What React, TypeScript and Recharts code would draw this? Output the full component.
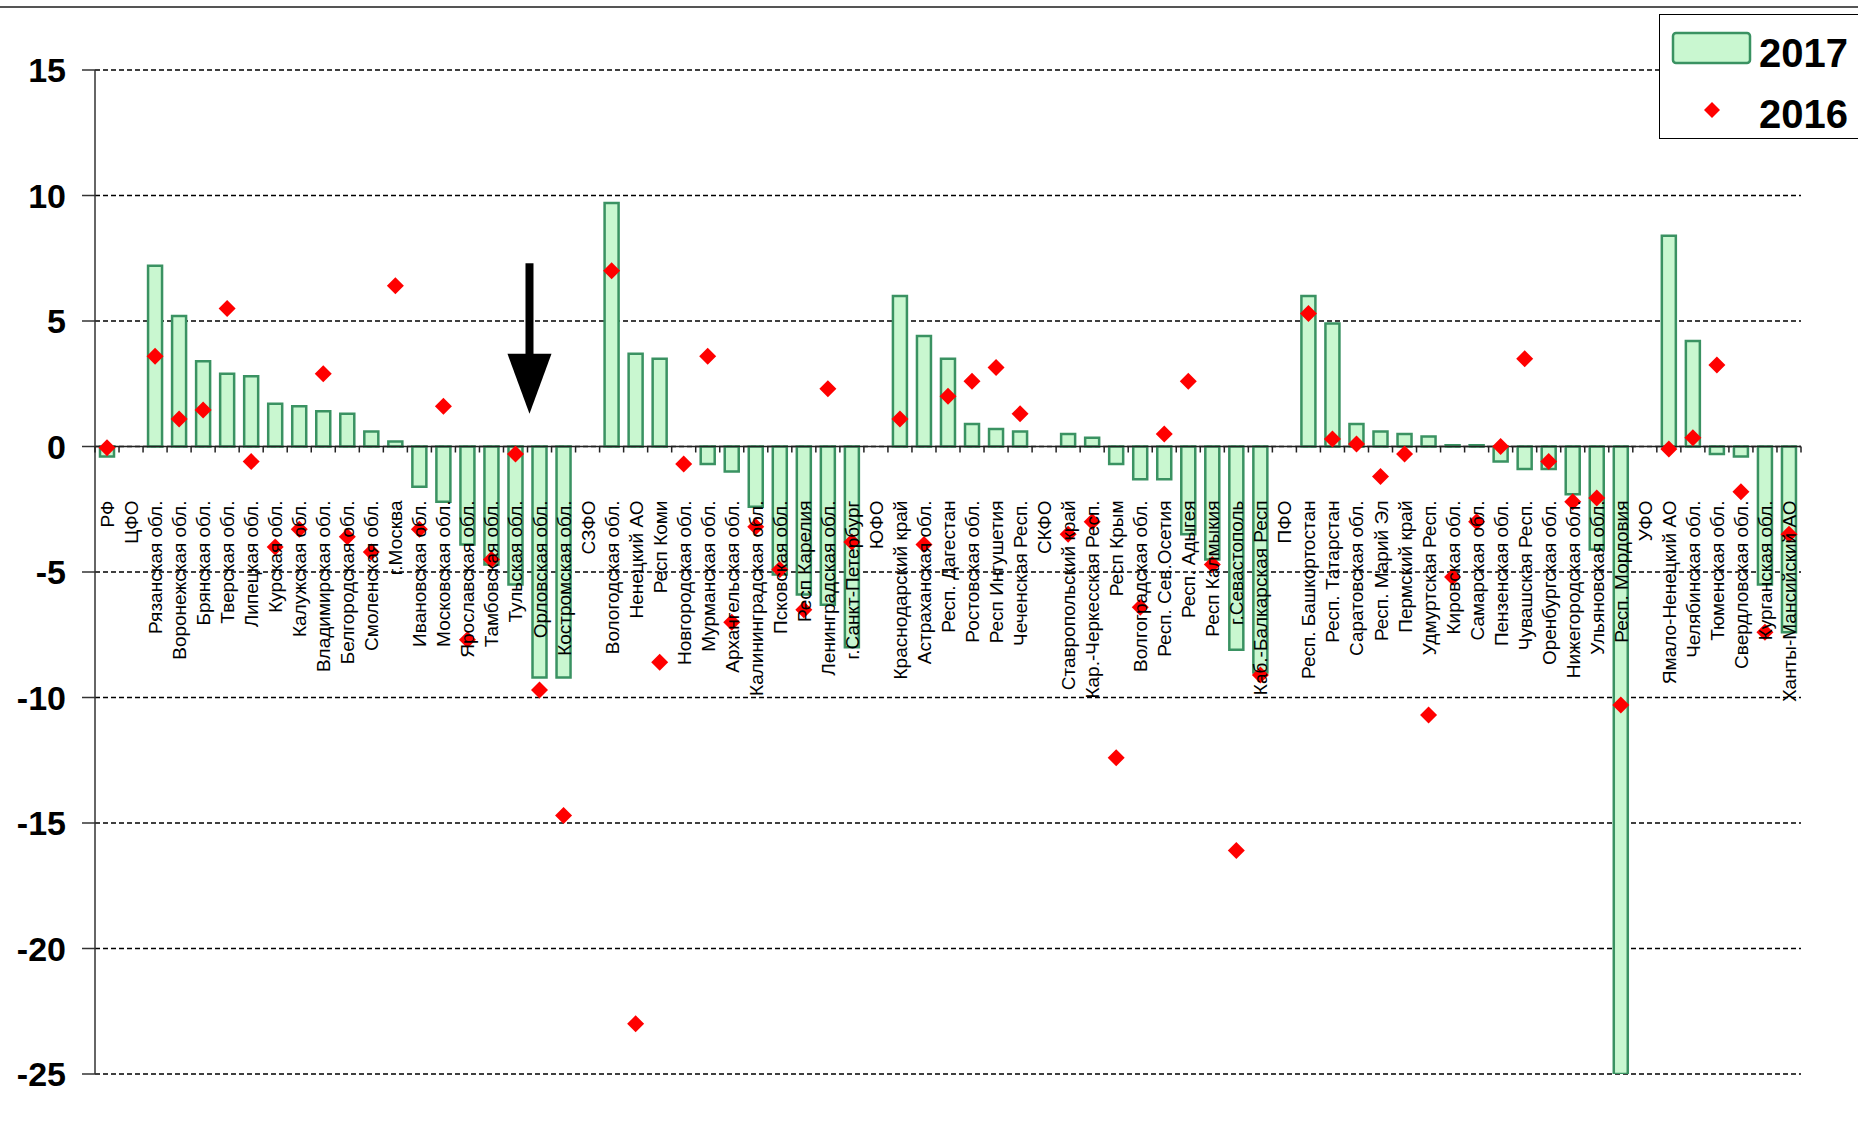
import React from "react";
import {
  ComposedChart,
  Bar,
  Scatter,
  XAxis,
  YAxis,
  CartesianGrid,
  ReferenceLine,
} from "recharts";

const categories = [
  "РФ", "ЦФО", "Рязанская обл.", "Воронежская обл.", "Брянская обл.", "Тверская обл.",
  "Липецкая обл.", "Курская обл.", "Калужская обл.", "Владимирская обл.", "Белгородская обл.",
  "Смоленская обл.", "г.Москва", "Ивановская обл.", "Московская обл.", "Ярославская обл.",
  "Тамбовская обл.", "Тульская обл.", "Орловская обл.", "Костромская обл.",
  "СЗФО", "Вологодская обл.", "Ненецкий АО", "Респ Коми", "Новгородская обл.",
  "Мурманская обл.", "Архангельская обл.", "Калининградская обл.", "Псковская обл.",
  "Респ Карелия", "Ленинградская обл.", "г.Санкт-Петербург",
  "ЮФО", "Краснодарский край", "Астраханская обл.", "Респ. Дагестан", "Ростовская обл.",
  "Респ Ингушетия", "Чеченская Респ.",
  "СКФО", "Ставропольский край", "Кар.-Черкесская Респ.", "Респ Крым", "Волгоградская обл.",
  "Респ. Сев.Осетия", "Респ. Адыгея", "Респ Калмыкия", "г.Севастополь", "Каб.-Балкарская Респ",
  "ПФО", "Респ. Башкортостан", "Респ. Татарстан", "Саратовская обл.", "Респ. Марий Эл",
  "Пермский край", "Удмуртская Респ.", "Кировская обл.", "Самарская обл.", "Пензенская обл.",
  "Чувашская Респ.", "Оренбургская обл.", "Нижегородская обл.", "Ульяновская обл.",
  "Респ. Мордовия",
  "УФО", "Ямало-Ненецкий АО", "Челябинская обл.", "Тюменская обл.", "Свердловская обл.",
  "Курганская обл.", "Ханты-Мансийский АО",
];

const values2017: (number | null)[] = [
  -0.4, null, 7.2, 5.2, 3.4, 2.9, 2.8, 1.7, 1.6, 1.4, 1.3, 0.6, 0.2, -1.6, -2.2, -3.9, -4.7, -5.5, -9.2, -9.2,
  null, 9.7, 3.7, 3.5, null, -0.7, -1.0, -2.4, -5.1, -5.9, -6.3, -8.0,
  null, 6.0, 4.4, 3.5, 0.9, 0.7, 0.6,
  null, 0.5, 0.35, -0.7, -1.3, -1.3, -3.5, -4.5, -8.1, -9.0,
  null, 6.0, 4.9, 0.9, 0.6, 0.5, 0.4, 0.05, 0.05, -0.6, -0.9, -0.9, -1.9, -4.1, -25,
  null, 8.4, 4.2, -0.3, -0.4, -5.5, -7.4,
];

const values2016: (number | null)[] = [
  -0.05, null, 3.6, 1.1, 1.45, 5.5, -0.6, -4.0, -3.3, 2.9, -3.6, -4.2, 6.4, -3.3, 1.6, -7.7, -4.5, -0.3, -9.7, -14.7,
  null, 7.0, -23.0, -8.6, -0.7, 3.6, -7.0, -3.2, -4.9, -6.5, 2.3, -3.8,
  null, 1.1, -3.9, 2.0, 2.6, 3.15, 1.3,
  null, -3.5, -3.0, -12.4, -6.4, 0.5, 2.6, -4.7, -16.1, -9.1,
  null, 5.3, 0.3, 0.1, -1.2, -0.3, -10.7, -5.2, -3.0, 0.0, 3.5, -0.6, -2.2, -2.05, -10.3,
  null, -0.1, 0.35, 3.25, -1.8, -7.4, -3.5,
];

const yTicks = [-25, -20, -15, -10, -5, 0, 5, 10, 15];

const W = 1858;
const H = 1132;
const M = { top: 70, right: 57, bottom: 57, left: 0 };
const Y_AXIS_W = 95;
const X_AXIS_H = 1;
const Y_MIN = -25;
const Y_MAX = 15;
const PLOT_H = H - M.top - M.bottom - X_AXIS_H;
const PLOT_W = W - M.left - M.right - Y_AXIS_W;
const ZERO_Y = M.top + (Y_MAX / (Y_MAX - Y_MIN)) * PLOT_H;
const BAND = PLOT_W / categories.length;

const FONT = "'Liberation Sans', Arial, sans-serif";
const BAR_FILL = "#c9f7d0";
const BAR_STROKE = "#3a9262";

const data = categories.map((name, i) => ({
  name,
  v2017: values2017[i],
  v2016: values2016[i],
}));

function CategoryTick(props: any) {
  const { x, payload, index } = props;
  const last = index === categories.length - 1;
  return (
    <g>
      <line x1={x - BAND / 2} x2={x - BAND / 2} y1={ZERO_Y} y2={ZERO_Y + 6} stroke="#222" strokeWidth={1.5} />
      {last && (
        <line x1={x + BAND / 2} x2={x + BAND / 2} y1={ZERO_Y} y2={ZERO_Y + 6} stroke="#222" strokeWidth={1.5} />
      )}
      <text
        transform={`translate(${x + 7}, ${ZERO_Y + 54}) rotate(-90)`}
        textAnchor="end"
        fontSize={19}
        fontFamily={FONT}
        fill="#000"
      >
        {payload.value}
      </text>
    </g>
  );
}

function Diamond(props: any) {
  const { cx, cy, payload } = props;
  if (payload == null || payload.v2016 == null) return null;
  const r = 8.5;
  return (
    <polygon
      points={`${cx},${cy - r} ${cx + r},${cy} ${cx},${cy + r} ${cx - r},${cy}`}
      fill="#ff0000"
    />
  );
}

function Arrow(props: any) {
  const { x1, y1, y2 } = props;
  const x = x1 + 14;
  const top = Math.min(y1, y2);
  const tip = Math.max(y1, y2);
  const headH = 60;
  const headW = 22;
  return (
    <g>
      <rect x={x - 4} y={top} width={8} height={tip - top - headH + 2} fill="#000" />
      <polygon points={`${x - headW},${tip - headH} ${x + headW},${tip - headH} ${x},${tip}`} fill="#000" />
    </g>
  );
}

function LegendBox() {
  return (
    <div
      style={{
        position: "absolute",
        left: 1659,
        top: 14,
        width: 210,
        height: 125,
        border: "1.5px solid #000",
        background: "#fff",
        boxSizing: "border-box",
      }}
    >
      <svg width={210} height={125} style={{ position: "absolute", left: -1.5, top: -1.5 }}>
        <rect x={14} y={19} width={77} height={30} rx={3} fill={BAR_FILL} stroke={BAR_STROKE} strokeWidth={2.5} />
        <text x={100} y={53} fontSize={40} fontWeight="bold" fontFamily={FONT} fill="#000">
          2017
        </text>
        <polygon points="53,88 61,96 53,104 45,96" fill="#ff0000" />
        <text x={100} y={114} fontSize={40} fontWeight="bold" fontFamily={FONT} fill="#000">
          2016
        </text>
      </svg>
    </div>
  );
}

export default function App() {
  return (
    <div
      style={{
        position: "absolute",
        left: 0,
        top: 0,
        width: W,
        height: H,
        background: "#fff",
        overflow: "hidden",
      }}
    >
      <div style={{ position: "absolute", left: 0, top: 6, width: W, height: 2, background: "#555" }} />
      <ComposedChart width={W} height={H} data={data} margin={M}>
        <CartesianGrid horizontal vertical={false} stroke="#000" strokeDasharray="5 3" strokeWidth={1.5} />
        <XAxis
          dataKey="name"
          interval={0}
          height={X_AXIS_H}
          axisLine={false}
          tickLine={false}
          tick={<CategoryTick />}
        />
        <YAxis
          width={Y_AXIS_W}
          domain={[Y_MIN, Y_MAX]}
          ticks={yTicks}
          allowDataOverflow
          axisLine={{ stroke: "#333", strokeWidth: 1.5 }}
          tickLine={{ stroke: "#333", strokeWidth: 1.5 }}
          tickSize={13}
          tickMargin={16}
          tick={{ fontSize: 34, fontWeight: "bold", fontFamily: FONT, fill: "#000" }}
        />
        <ReferenceLine y={0} stroke="#222" strokeWidth={1.5} />
        <Bar
          dataKey="v2017"
          barSize={14}
          fill={BAR_FILL}
          stroke={BAR_STROKE}
          strokeWidth={2.5}
          isAnimationActive={false}
        />
        <Scatter dataKey="v2016" shape={<Diamond />} isAnimationActive={false} />
        <ReferenceLine
          segment={[
            { x: "Тульская обл.", y: 7.3 },
            { x: "Тульская обл.", y: 1.3 },
          ]}
          shape={<Arrow />}
          ifOverflow="visible"
        />
      </ComposedChart>
      <LegendBox />
    </div>
  );
}
